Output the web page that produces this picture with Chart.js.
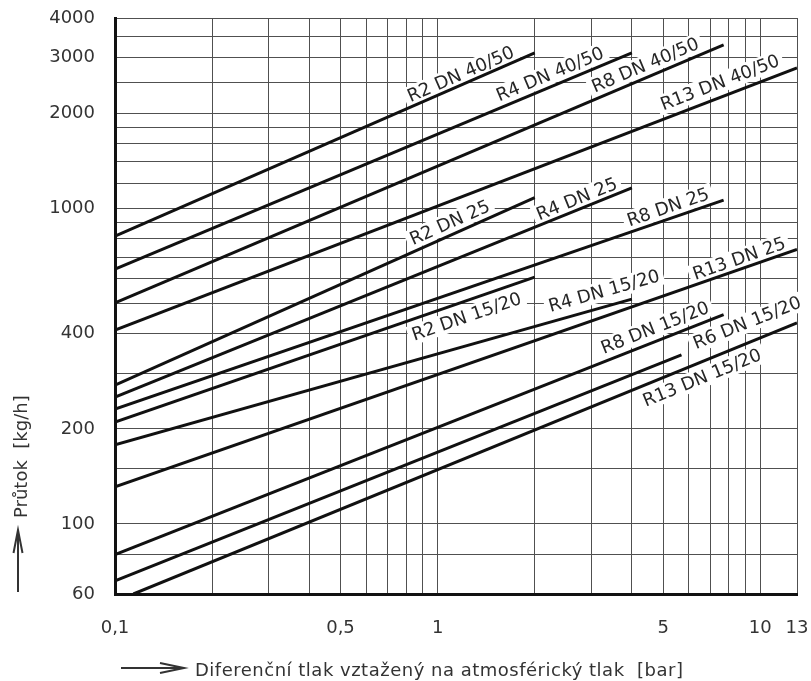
<!DOCTYPE html>
<html>
<head>
<meta charset="utf-8">
<script src="https://cdn.jsdelivr.net/npm/chart.js@4.4.0/dist/chart.umd.min.js"></script>
<style>
  html, body { margin: 0; padding: 0; background: #fff; }
  #wrap { width: 811px; height: 681px; }
</style>
</head>
<body>
<div id="wrap"><canvas id="flowChart" width="811" height="681"></canvas></div>
<script>
// Flow through the regulators vs. differential pressure (log-log diagram)
const lineNames = [
    'R2 DN 40/50', 'R4 DN 40/50', 'R8 DN 40/50', 'R13 DN 40/50',
    'R2 DN 25', 'R4 DN 25', 'R8 DN 25', 'R13 DN 25',
    'R2 DN 15/20', 'R4 DN 15/20', 'R8 DN 15/20', 'R6 DN 15/20', 'R13 DN 15/20'
];
// every curve is a straight line on log-log paper: first and last point
const startBar  = [0.1, 0.1, 0.1, 0.1, 0.1, 0.1, 0.1, 0.1, 0.1, 0.1, 0.1, 0.1, 0.114];
const startFlow = [816, 641, 501, 411, 275, 252, 231, 131, 210, 178, 80, 66, 60];
const endBar    = [2, 4, 7.7, 13, 2, 4, 7.7, 13, 2, 4, 7.7, 5.7, 13];
const endFlow   = [3100, 3100, 3290, 2780, 1080, 1160, 1060, 740, 605, 515, 460, 343, 433];

// grid and tick labels
const xGrid = [0.1, 0.2, 0.3, 0.4, 0.5, 0.6, 0.7, 0.8, 0.9, 1, 2, 3, 4, 5, 6, 7, 8, 9, 10, 13];
const xTickValues = [0.1, 0.5, 1, 5, 10, 13];
const xTickText = ['0,1', '0,5', '1', '5', '10', '13'];
const yGrid = [60, 80, 100, 150, 200, 300, 400, 500, 600, 700, 800, 900, 1000,
    1200, 1400, 1600, 1800, 2000, 2500, 3000, 3500, 4000];
const yTickValues = [60, 100, 200, 400, 1000, 2000, 3000, 4000];

// where the curve names sit: bar value along the curve, lift above it in px
const labelAtBar = [1.18, 2.23, 4.4, 7.5, 1.09, 2.7, 5.18, 8.6, 1.23, 3.28, 4.72, 9.1, 6.6];
const labelLift  = [11, 13, 13, 15, 13, 11, 12, 11, -16, 16, 14, 6, -16];

const FONT = "'DejaVu Sans', sans-serif";
const INK = '#333';

function labelGeometry(chart, i) {
    const xs = chart.scales.x, ys = chart.scales.y;
    const x0 = xs.getPixelForValue(startBar[i]), y0 = ys.getPixelForValue(startFlow[i]);
    const x1 = xs.getPixelForValue(endBar[i]), y1 = ys.getPixelForValue(endFlow[i]);
    const cx = xs.getPixelForValue(labelAtBar[i]);
    const cy = y0 + (cx - x0) * (y1 - y0) / (x1 - x0) - labelLift[i];
    return { cx, cy, angle: Math.atan2(y1 - y0, x1 - x0) };
}

function drawCurveNames(chart, boxes) {
    const ctx = chart.ctx;
    ctx.save();
    ctx.font = '18px ' + FONT;
    ctx.textAlign = 'center';
    ctx.textBaseline = 'middle';
    lineNames.forEach((name, i) => {
        const g = labelGeometry(chart, i);
        ctx.save();
        ctx.translate(g.cx, g.cy);
        ctx.rotate(g.angle);
        if (boxes) {
            const w = ctx.measureText(name).width;
            ctx.fillStyle = '#fff';
            ctx.fillRect(-w / 2 - 4, -10, w + 8, 20);
        } else {
            ctx.fillStyle = '#262626';
            ctx.fillText(name, 0, 1);
        }
        ctx.restore();
    });
    ctx.restore();
}

const curveNames = {
    id: 'curveNames',
    beforeDatasetsDraw(chart) { drawCurveNames(chart, true); },
    afterDatasetsDraw(chart) { drawCurveNames(chart, false); }
};

// axis titles with the hand-drawn looking arrows
const axisTitles = {
    id: 'axisTitles',
    afterDraw(chart) {
        const ctx = chart.ctx;
        ctx.save();
        ctx.fillStyle = INK;
        ctx.strokeStyle = INK;
        ctx.lineWidth = 2;
        ctx.font = '18px ' + FONT;

        // y title
        ctx.save();
        ctx.translate(22, 518);
        ctx.rotate(-Math.PI / 2);
        ctx.textAlign = 'left';
        ctx.textBaseline = 'middle';
        ctx.fillText('Průtok  [kg/h]', 0, 0);
        ctx.restore();
        ctx.beginPath();
        ctx.moveTo(18, 592); ctx.lineTo(18, 531);
        ctx.moveTo(13.5, 553); ctx.lineTo(18, 530); ctx.lineTo(22.5, 553);
        ctx.stroke();

        // x title
        ctx.textAlign = 'left';
        ctx.textBaseline = 'alphabetic';
        ctx.letterSpacing = '0.5px';
        ctx.fillText('Diferenční tlak vztažený na atmosférický tlak  [bar]', 195, 676);
        ctx.beginPath();
        ctx.moveTo(121, 668); ctx.lineTo(182, 668);
        ctx.moveTo(160, 663); ctx.lineTo(184, 668); ctx.lineTo(160, 673);
        ctx.stroke();
        ctx.restore();
    }
};

// keep the plot frame where the layout padding puts it
function noLabelPadding(scale) {
    scale.paddingLeft = 0;
    scale.paddingRight = 0;
    scale.paddingTop = 0;
    scale.paddingBottom = 0;
}

const ctx = document.getElementById('flowChart');
new Chart(ctx, {
    type: 'line',
    data: {
        datasets: lineNames.map((name, i) => ({
            label: name,
            data: [
                { x: startBar[i], y: startFlow[i] },
                { x: endBar[i], y: endFlow[i] }
            ],
            borderColor: '#111',
            borderWidth: 3,
            pointRadius: 0,
            fill: false,
            tension: 0
        }))
    },
    options: {
        responsive: false,
        animation: false,
        layout: { padding: { left: 0, right: 14, top: 18, bottom: 0 } },
        scales: {
            x: {
                type: 'logarithmic',
                min: 0.1,
                max: 13,
                afterBuildTicks: (scale) => { scale.ticks = xGrid.map(v => ({ value: v })); },
                afterFit: (scale) => { scale.height = 87; noLabelPadding(scale); },
                ticks: {
                    autoSkip: false,
                    maxRotation: 0,
                    minRotation: 0,
                    padding: 24,
                    color: INK,
                    font: { family: FONT, size: 18 },
                    callback: (value) => {
                        const k = xTickValues.indexOf(value);
                        return k >= 0 ? xTickText[k] : '';
                    }
                },
                grid: { color: '#505050', lineWidth: 1, drawTicks: false },
                border: { color: '#111', width: 3 }
            },
            y: {
                type: 'logarithmic',
                min: 60,
                max: 4000,
                afterBuildTicks: (scale) => { scale.ticks = yGrid.map(v => ({ value: v })); },
                afterFit: (scale) => { scale.width = 115; noLabelPadding(scale); },
                ticks: {
                    autoSkip: false,
                    padding: 20,
                    color: INK,
                    font: { family: FONT, size: 18 },
                    callback: (value) => yTickValues.includes(value) ? String(value) : ''
                },
                grid: { color: '#505050', lineWidth: 1, drawTicks: false },
                border: { color: '#111', width: 3 }
            }
        },
        plugins: {
            legend: { display: false },
            tooltip: { enabled: false }
        }
    },
    plugins: [curveNames, axisTitles]
});
</script>
</body>
</html>
